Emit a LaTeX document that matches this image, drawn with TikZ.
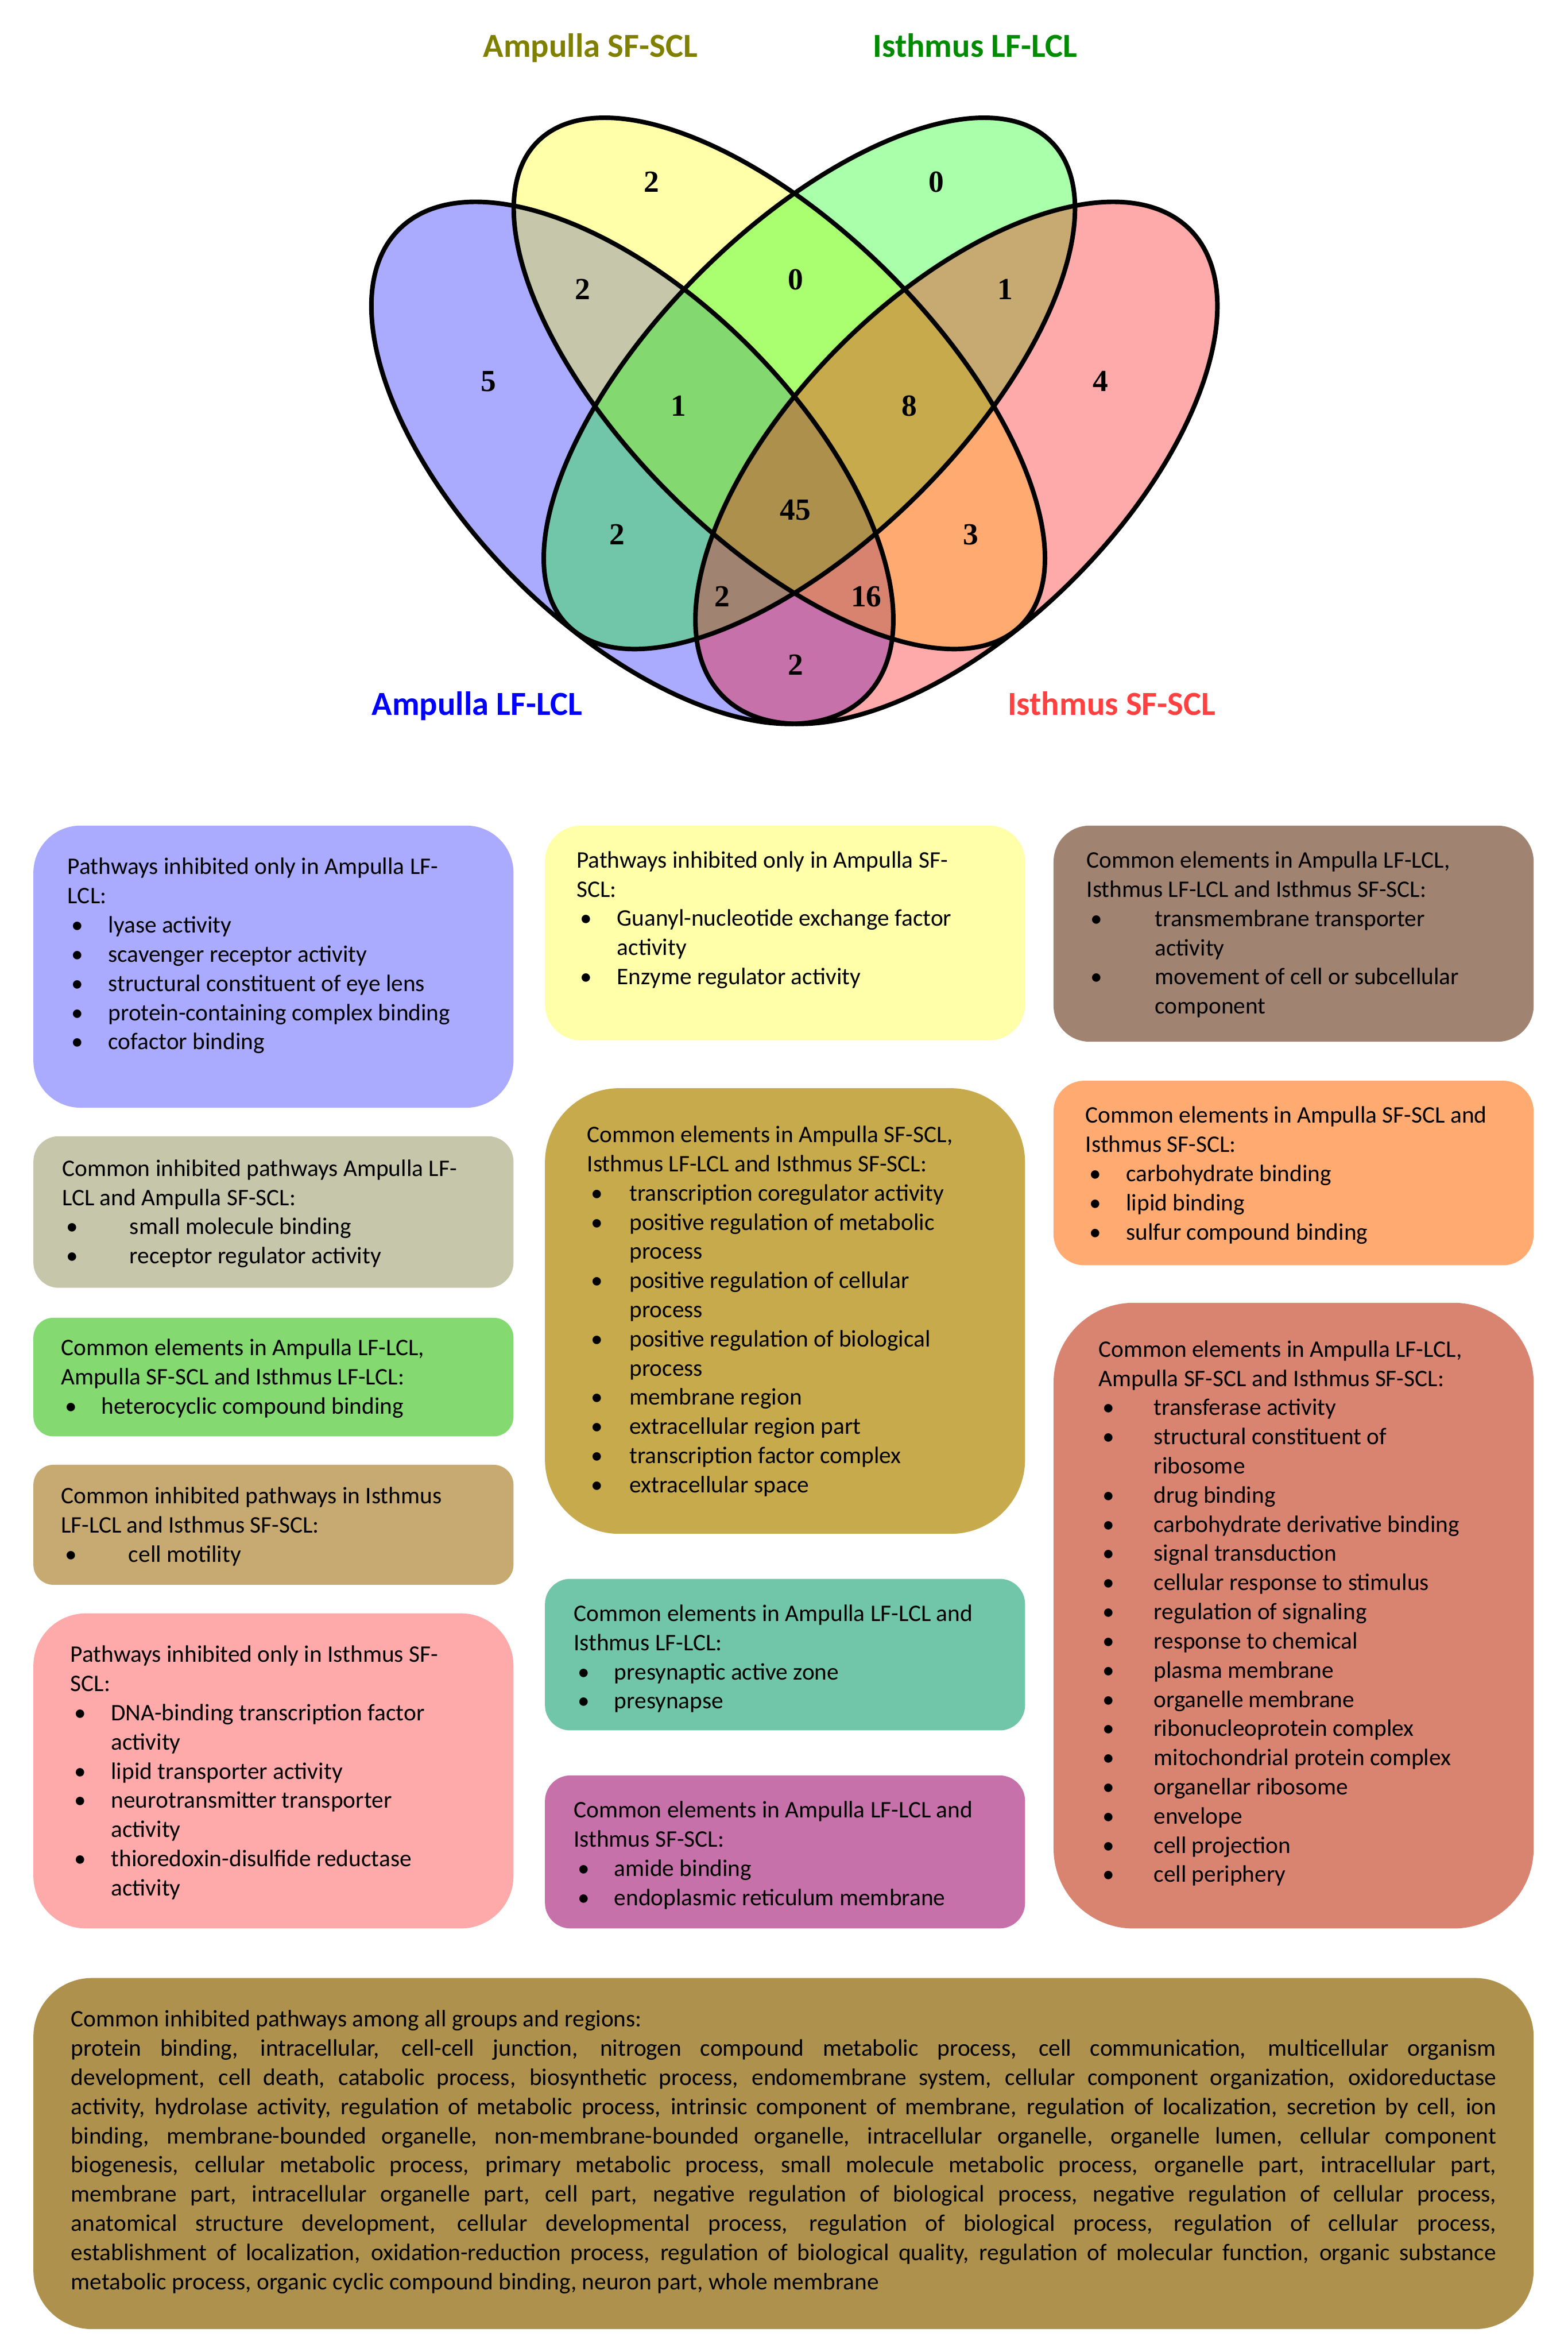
\documentclass[tikz,border=0pt]{standalone}
\usepackage{fontspec}
\setmainfont{Carlito}
\newfontfamily\numfont{Liberation Serif}
\usepackage{xcolor}
\usepackage{tikz}
\usetikzlibrary{calc,positioning}

% set colours
\definecolor{vBlu}{RGB}{0,0,255}
\definecolor{vYel}{RGB}{255,255,0}
\definecolor{vGrn}{RGB}{0,255,0}
\definecolor{vRed}{RGB}{255,0,0}
% label colours
\definecolor{lOli}{RGB}{128,128,0}
\definecolor{lGrn}{RGB}{0,140,0}
\definecolor{lBlu}{RGB}{0,0,255}
\definecolor{lRed}{RGB}{255,64,64}
% box colours
\definecolor{cBlu}{RGB}{170,170,255}
\definecolor{cYel}{RGB}{255,255,170}
\definecolor{cBY}{RGB}{198,198,170}
\definecolor{cBYG}{RGB}{132,217,113}
\definecolor{cGP}{RGB}{198,170,113}
\definecolor{cPnk}{RGB}{255,170,170}
\definecolor{cYGP}{RGB}{198,170,76}
\definecolor{cBG}{RGB}{113,198,170}
\definecolor{cBP}{RGB}{198,113,170}
\definecolor{cBGP}{RGB}{160,132,113}
\definecolor{cYP}{RGB}{255,170,113}
\definecolor{cBYP}{RGB}{217,132,113}
\definecolor{cAll}{RGB}{173,145,76}

\newlength{\bulind}
\setlength{\bulind}{0.72cm}
\newcommand{\bul}{\makebox[\bulind][l]{\hspace{0.07cm}\textbullet}}
\newcommand{\bulc}{\hspace*{\bulind}}
\newcommand{\jline}[1]{\makebox[25.31cm][s]{#1}}

\begin{document}
\begin{tikzpicture}[
    panel/.style={anchor=north west, inner sep=0pt, minimum width=8.525cm},
    txt/.style={inner sep=0pt, align=left, font=\fontsize{12pt}{14.74pt}\selectfont},
    ind/.code={\setlength{\bulind}{#1}},
    num/.style={font=\numfont\bfseries\fontsize{15.5pt}{16pt}\selectfont},
    lab/.style={anchor=base, font=\bfseries\fontsize{17pt}{18pt}\selectfont}
]

    \path[use as bounding box] (0,0) rectangle (27.84,-41.76);

    % Ellipses
    \foreach \cx/\cy/\ang/\ra/\rb/\col in {11.229/-8.218/-45/5.861/2.930/vBlu,
                                           13.839/-6.807/-45/6.071/2.760/vYel,
                                           14.372/-6.807/45/6.071/2.760/vGrn,
                                           16.983/-8.218/45/5.861/2.930/vRed} {
        \fill[\col, fill opacity=0.333, rotate around={\ang:(\cx,\cy)}]
            (\cx,\cy) ellipse (\ra cm and \rb cm);
    }
    \foreach \cx/\cy/\ang/\ra/\rb in {11.229/-8.218/-45/5.861/2.930,
                                      13.839/-6.807/-45/6.071/2.760,
                                      14.372/-6.807/45/6.071/2.760,
                                      16.983/-8.218/45/5.861/2.930} {
        \draw[line width=2.3pt, rotate around={\ang:(\cx,\cy)}]
            (\cx,\cy) ellipse (\ra cm and \rb cm);
    }

    % Set names
    \node[lab, text=lOli] (lAS) at (10.483,-1.01) {Ampulla SF-SCL};
    \node[lab, text=lGrn] (lIL) at (17.316,-1.01) {Isthmus LF-LCL};
    \node[lab, text=lBlu] (lAL) at (8.472,-12.70) {Ampulla LF-LCL};
    \node[lab, text=lRed] (lIS) at (19.740,-12.70) {Isthmus SF-SCL};

    % Counts
    \node[num] (nY)   at (11.570,-3.234) {2};
    \node[num] (nG)   at (16.629,-3.234) {0};
    \node[num] (nBY)  at (10.344,-5.134) {2};
    \node[num] (nYG)  at (14.125,-4.960) {0};
    \node[num] (nGP)  at (17.854,-5.134) {1};
    \node[num] (nB)   at (8.679,-6.772) {5};
    \node[num] (nP)   at (19.540,-6.772) {4};
    \node[num] (nBYG) at (12.049,-7.203) {1};
    \node[num] (nYGP) at (16.149,-7.203) {8};
    \node[num] (nAll) at (14.125,-9.058) {45};
    \node[num] (nBG)  at (10.960,-9.489) {2};
    \node[num] (nYP)  at (17.241,-9.489) {3};
    \node[num] (nBGP) at (12.827,-10.592) {2};
    \node[num] (nBYP) at (15.382,-10.592) {16};
    \node[num] (nBP)  at (14.125,-11.802) {2};

    % Left column
    \node[panel, fill=cBlu, minimum height=5.008cm, rounded corners=0.835cm] (pBlu) at (0.586,-14.652) {};
    \node[txt, below right=0.575cm and 0.61cm of pBlu.north west] (tBlu) {Pathways inhibited only in Ampulla LF-\\
        LCL:\\
        \bul lyase activity\\
        \bul scavenger receptor activity\\
        \bul structural constituent of eye lens\\
        \bul protein-containing complex binding\\
        \bul cofactor binding};

    \node[panel, fill=cBY, minimum height=2.691cm, rounded corners=0.449cm] (pBY) at (0.586,-20.167) {};
    \node[txt, ind=1.2cm, below right=0.415cm and 0.51cm of pBY.north west] (tBY) {Common inhibited pathways Ampulla LF-\\
        LCL and Ampulla SF-SCL:\\
        \bul small molecule binding\\
        \bul receptor regulator activity};

    \node[panel, fill=cBYG, minimum height=2.105cm, rounded corners=0.351cm] (pBYG) at (0.586,-23.39) {};
    \node[txt, below right=0.378cm and 0.49cm of pBYG.north west] (tBYG) {Common elements in Ampulla LF-LCL,\\
        Ampulla SF-SCL and Isthmus LF-LCL:\\
        \bul heterocyclic compound binding};

    \node[panel, fill=cGP, minimum height=2.131cm, rounded corners=0.355cm] (pGP) at (0.586,-26.0) {};
    \node[txt, ind=1.2cm, below right=0.40cm and 0.49cm of pGP.north west] (tGP) {Common inhibited pathways in Isthmus\\
        LF-LCL and Isthmus SF-SCL:\\
        \bul cell motility};

    \node[panel, fill=cPnk, minimum height=5.594cm, rounded corners=0.932cm] (pPnk) at (0.586,-28.638) {};
    \node[txt, below right=0.575cm and 0.66cm of pPnk.north west] (tPnk) {Pathways inhibited only in Isthmus SF-\\
        SCL:\\
        \bul DNA-binding transcription factor\\
        \bulc activity\\
        \bul lipid transporter activity\\
        \bul neurotransmitter transporter\\
        \bulc activity\\
        \bul thioredoxin-disulfide reductase\\
        \bulc activity};

    % Middle column
    \node[panel, fill=cYel, minimum height=3.810cm, rounded corners=0.635cm] (pYel) at (9.670,-14.652) {};
    \node[txt, below right=0.456cm and 0.56cm of pYel.north west] (tYel) {Pathways inhibited only in Ampulla SF-\\
        SCL:\\
        \bul Guanyl-nucleotide exchange factor\\
        \bulc activity\\
        \bul Enzyme regulator activity};

    \node[panel, fill=cYGP, minimum height=7.912cm, rounded corners=1.319cm] (pYGP) at (9.670,-19.314) {};
    \node[txt, ind=0.75cm, below right=0.67cm and 0.75cm of pYGP.north west] (tYGP) {Common elements in Ampulla SF-SCL,\\
        Isthmus LF-LCL and Isthmus SF-SCL:\\
        \bul transcription coregulator activity\\
        \bul positive regulation of metabolic\\
        \bulc process\\
        \bul positive regulation of cellular\\
        \bulc process\\
        \bul positive regulation of biological\\
        \bulc process\\
        \bul membrane region\\
        \bul extracellular region part\\
        \bul transcription factor complex\\
        \bul extracellular space};

    \node[panel, fill=cBG, minimum height=2.691cm, rounded corners=0.449cm] (pBG) at (9.670,-28.025) {};
    \node[txt, below right=0.46cm and 0.51cm of pBG.north west] (tBG) {Common elements in Ampulla LF-LCL and\\
        Isthmus LF-LCL:\\
        \bul presynaptic active zone\\
        \bul presynapse};

    \node[panel, fill=cBP, minimum height=2.717cm, rounded corners=0.453cm] (pBP) at (9.670,-31.515) {};
    \node[txt, below right=0.46cm and 0.51cm of pBP.north west] (tBP) {Common elements in Ampulla LF-LCL and\\
        Isthmus SF-SCL:\\
        \bul amide binding\\
        \bul endoplasmic reticulum membrane};

    % Right column
    \node[panel, fill=cBGP, minimum height=3.836cm, rounded corners=0.639cm] (pBGP) at (18.701,-14.652) {};
    \node[txt, ind=1.21cm, below right=0.46cm and 0.59cm of pBGP.north west] (tBGP) {Common elements in Ampulla LF-LCL,\\
        Isthmus LF-LCL and Isthmus SF-SCL:\\
        \bul transmembrane transporter\\
        \bulc activity\\
        \bul movement of cell or subcellular\\
        \bulc component};

    \node[panel, fill=cYP, minimum height=3.277cm, rounded corners=0.546cm] (pYP) at (18.701,-19.181) {};
    \node[txt, below right=0.46cm and 0.57cm of pYP.north west] (tYP) {Common elements in Ampulla SF-SCL and\\
        Isthmus SF-SCL:\\
        \bul carbohydrate binding\\
        \bul lipid binding\\
        \bul sulfur compound binding};

    \node[panel, fill=cBYP, minimum height=11.109cm, rounded corners=1.42cm] (pBYP) at (18.701,-23.124) {};
    \node[txt, ind=0.98cm, below right=0.67cm and 0.80cm of pBYP.north west] (tBYP) {Common elements in Ampulla LF-LCL,\\
        Ampulla SF-SCL and Isthmus SF-SCL:\\
        \bul transferase activity\\
        \bul structural constituent of\\
        \bulc ribosome\\
        \bul drug binding\\
        \bul carbohydrate derivative binding\\
        \bul signal transduction\\
        \bul cellular response to stimulus\\
        \bul regulation of signaling\\
        \bul response to chemical\\
        \bul plasma membrane\\
        \bul organelle membrane\\
        \bul ribonucleoprotein complex\\
        \bul mitochondrial protein complex\\
        \bul organellar ribosome\\
        \bul envelope\\
        \bul cell projection\\
        \bul cell periphery};

    % Bottom box
    \node[panel, fill=cAll, minimum width=26.64cm, minimum height=6.234cm, rounded corners=1.039cm] (pAll) at (0.586,-35.112) {};
    \node[txt, below right=0.575cm and 0.67cm of pAll.north west] (tAll) {Common inhibited pathways among all groups and regions:\\
        \jline{protein binding, intracellular, cell-cell junction, nitrogen compound metabolic process, cell communication, multicellular organism}\\
        \jline{development, cell death, catabolic process, biosynthetic process, endomembrane system, cellular component organization, oxidoreductase}\\
        \jline{activity, hydrolase activity, regulation of metabolic process, intrinsic component of membrane, regulation of localization, secretion by cell, ion}\\
        \jline{binding, membrane-bounded organelle, non-membrane-bounded organelle, intracellular organelle, organelle lumen, cellular component}\\
        \jline{biogenesis, cellular metabolic process, primary metabolic process, small molecule metabolic process, organelle part, intracellular part,}\\
        \jline{membrane part, intracellular organelle part, cell part, negative regulation of biological process, negative regulation of cellular process,}\\
        \jline{anatomical structure development, cellular developmental process, regulation of biological process, regulation of cellular process,}\\
        \jline{establishment of localization, oxidation-reduction process, regulation of biological quality, regulation of molecular function, organic substance}\\
        metabolic process, organic cyclic compound binding, neuron part, whole membrane};

\end{tikzpicture}
\end{document}
